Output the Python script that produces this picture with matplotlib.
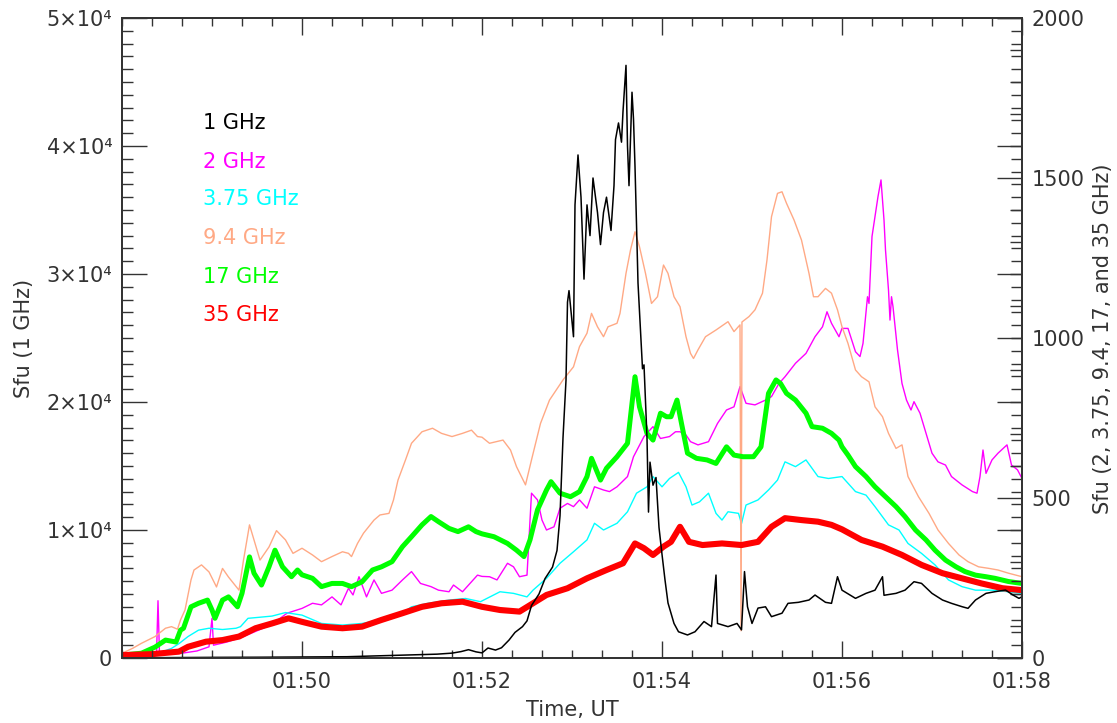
import numpy as np
import matplotlib
matplotlib.use('Agg')
import matplotlib.pyplot as plt
from matplotlib.ticker import MultipleLocator

# time in seconds after 01:48:00 UT, fluxes in sfu

# 1 GHz (left axis)
t_1 = [0, 30, 60, 90, 120, 150, 180, 195, 210, 220, 226, 231, 236, 240, 244, 249, 253, 258, 262, 267,
       270, 273, 278, 282, 287, 290, 292, 294, 296, 297, 298, 300, 301, 302, 304, 306, 308, 310, 312, 314,
       317, 319, 321, 323, 326, 328, 329, 331, 333, 334, 336, 337, 338, 340, 341, 342, 343, 344, 347, 348,
       350, 351, 352, 354, 356, 358, 360, 362, 364, 368, 371, 377, 382, 388, 393, 396, 397, 404, 410, 413,
       415, 417, 420, 424, 429, 433, 440, 444, 451, 458, 462, 469, 473, 477, 480, 489, 496, 502, 507, 508,
       516, 522, 528, 533, 540, 547, 553, 560, 564, 569, 576, 582, 589, 594, 598, 600]
f_1 = [0, 30, 50, 60, 80, 100, 200, 250, 300, 380, 500, 650, 480, 400, 780, 620, 800, 1400, 2000, 2450,
       2900, 4100, 5000, 6200, 7100, 8400, 11100, 17200, 21700, 27800, 28700, 26300, 25100, 35400, 39300, 36000, 29600, 35400, 33000, 37500,
       34800, 32300, 34800, 36000, 33400, 36900, 40500, 41800, 40300, 42700, 46300, 40000, 36900, 44200, 42100, 38400, 33900, 29300, 22600, 22900,
       17200, 11400, 15300, 13500, 14100, 10200, 8100, 6100, 4300, 2700, 2050, 1800, 2050, 2850, 2450, 6480, 2700, 2450, 2700, 2200,
       6750, 4000, 2700, 3900, 4000, 3230, 3500, 4270, 4350, 4530, 4920, 4350, 4270, 6350, 5300, 4660, 5050, 5300, 6350, 4900,
       5050, 5300, 5960, 5830, 5050, 4530, 4270, 4010, 3880, 4530, 5050, 5180, 5310, 4920, 4660, 4790]

# 2 GHz (right axis)
t_2 = [0, 15, 23, 24, 25, 40, 50, 58, 60, 61, 70, 80, 90, 100, 110, 120, 127, 133, 140, 146,
       151, 154, 158, 163, 168, 173, 180, 187, 193, 199, 206, 211, 218, 221, 227, 232, 237, 240, 245, 250,
       257, 261, 265, 270, 273, 277, 280, 283, 288, 292, 297, 301, 305, 310, 315, 321, 325, 330, 337, 341,
       348, 354, 359, 365, 369, 372, 376, 379, 384, 391, 397, 403, 408, 412, 416, 422, 429, 433, 438, 442,
       449, 456, 462, 467, 470, 473, 478, 480, 484, 489, 492, 494, 497, 498, 500, 502, 504, 506, 507, 508,
       509, 511, 512, 513, 514, 517, 520, 523, 526, 528, 532, 536, 540, 544, 549, 553, 560, 567, 570, 572,
       574, 576, 580, 584, 590, 593, 597, 600]
f_2 = [5, 8, 10, 179, 10, 15, 22, 35, 124, 40, 50, 65, 85, 105, 140, 155, 171, 166, 191, 166,
       218, 197, 254, 191, 244, 202, 212, 244, 270, 233, 223, 212, 207, 228, 207, 233, 259, 255, 254, 244,
       296, 285, 254, 259, 515, 494, 431, 400, 410, 468, 483, 473, 494, 468, 535, 525, 520, 535, 567, 629,
       692, 723, 686, 692, 707, 707, 697, 676, 666, 676, 733, 775, 785, 848, 796, 791, 806, 817, 858, 879,
       921, 952, 1004, 1035, 1082, 1046, 1004, 1030, 1030, 957, 942, 983, 1129, 1108, 1317, 1379, 1442, 1494, 1431, 1369,
       1275, 1150, 1056, 1129, 1098, 963, 858, 806, 775, 801, 765, 702, 640, 613, 603, 567, 541, 520, 515, 567,
       650, 577, 619, 640, 666, 603, 588, 561]

# 3.75 GHz (right axis)
t_375 = [0, 20, 33, 38, 44, 51, 58, 67, 76, 79, 84, 91, 100, 109, 120, 133, 147, 160, 173, 187,
         193, 204, 218, 229, 239, 252, 261, 270, 274, 283, 292, 301, 310, 315, 321, 330, 337, 343, 350, 354,
         360, 365, 371, 376, 380, 385, 391, 396, 400, 404, 411, 413, 416, 424, 431, 437, 442, 449, 456, 464,
         471, 480, 489, 496, 502, 511, 518, 524, 533, 542, 551, 560, 569, 580, 591, 600]
f_375 = [5, 8, 30, 45, 67, 87, 93, 89, 93, 98, 124, 127, 131, 142, 134, 108, 103, 108, 119, 140,
         160, 171, 181, 186, 176, 207, 202, 191, 212, 249, 296, 332, 369, 421, 400, 421, 457, 515, 535, 567,
         535, 561, 580, 535, 478, 488, 515, 452, 431, 457, 452, 420, 478, 494, 525, 556, 613, 598, 619, 567,
         561, 567, 520, 509, 473, 416, 400, 358, 327, 291, 244, 223, 212, 212, 207, 202]

# 9.4 GHz (right axis)
t_94 = [0, 7, 13, 22, 29, 33, 37, 39, 42, 46, 48, 53, 58, 63, 67, 71, 78, 81, 85, 88,
        92, 98, 103, 109, 114, 120, 127, 133, 140, 147, 151, 153, 157, 161, 168, 172, 178, 181, 184, 189,
        193, 200, 207, 213, 220, 227, 233, 237, 240, 245, 254, 259, 263, 269, 273, 279, 285, 294, 301, 305,
        310, 313, 317, 321, 324, 330, 332, 336, 339, 342, 345, 349, 353, 357, 361, 364, 368, 372, 376, 379,
        381, 384, 389, 396, 404, 408, 412, 412.7, 413.3, 418, 422, 427, 430, 433, 437, 440, 443, 448, 453, 458,
        461, 464, 469, 473, 477, 480, 484, 489, 493, 498, 502, 507, 511, 516, 520, 524, 531, 538, 544, 551,
        558, 564, 571, 578, 584, 591, 600]
f_94 = [15, 30, 46, 67, 93, 98, 90, 119, 150, 244, 275, 291, 269, 222, 280, 253, 212, 306, 416, 369,
        306, 347, 398, 369, 327, 343, 322, 301, 317, 332, 327, 317, 358, 390, 431, 447, 452, 494, 556, 619,
        671, 707, 718, 702, 692, 702, 712, 692, 690, 671, 681, 650, 598, 541, 619, 733, 806, 869, 910, 973,
        1015, 1077, 1035, 1004, 1035, 1046, 1077, 1202, 1275, 1332, 1285, 1202, 1108, 1129, 1228, 1202, 1129, 1098, 1004, 952,
        936, 963, 1004, 1025, 1051, 1020, 1041, 85, 1050, 1067, 1088, 1140, 1244, 1379, 1452, 1457, 1421, 1369, 1306, 1202,
        1129, 1129, 1155, 1140, 1088, 1035, 983, 900, 879, 863, 785, 754, 702, 655, 666, 567, 504, 452, 400, 358,
        322, 301, 285, 280, 275, 265, 254]

# 17 GHz (right axis)
t_17 = [0, 13, 22, 29, 36, 39, 41, 46, 51, 57, 60, 62, 67, 71, 77, 80, 85, 88, 93, 98,
        102, 107, 113, 117, 120, 127, 133, 140, 147, 153, 160, 167, 173, 180, 187, 193, 200, 206, 211, 218,
        224, 231, 236, 240, 248, 257, 263, 268, 272, 277, 283, 286, 292, 299, 305, 310, 313, 319, 323, 330,
        337, 342, 345, 350, 354, 359, 363, 366, 370, 373, 377, 383, 390, 396, 403, 408, 414, 421, 426, 431,
        436, 439, 443, 449, 456, 460, 467, 473, 478, 480, 484, 489, 496, 502, 509, 516, 522, 529, 536, 542,
        549, 556, 562, 569, 576, 582, 591, 600]
f_17 = [9, 15, 34, 56, 50, 87, 93, 160, 171, 181, 150, 124, 181, 191, 160, 202, 316, 265, 228, 285,
        337, 285, 254, 275, 260, 249, 223, 233, 233, 223, 238, 275, 285, 301, 348, 379, 416, 442, 426, 405,
        395, 410, 395, 388, 379, 358, 337, 317, 369, 463, 525, 551, 515, 504, 520, 567, 624, 556, 593, 629,
        671, 879, 785, 702, 681, 765, 754, 754, 806, 733, 640, 624, 619, 608, 660, 634, 629, 629, 660, 827,
        869, 858, 827, 806, 765, 723, 718, 702, 681, 660, 634, 598, 567, 535, 504, 473, 442, 400, 369, 337,
        306, 285, 270, 259, 254, 249, 239, 233]

# 35 GHz (right axis)
t_35 = [0, 20, 38, 44, 56, 67, 78, 89, 100, 111, 120, 133, 147, 160, 173, 187, 200, 213, 227, 240,
        252, 265, 274, 283, 297, 310, 323, 334, 342, 348, 354, 361, 366, 372, 378, 387, 400, 413, 424, 433,
        442, 453, 464, 473, 480, 493, 507, 520, 533, 547, 560, 573, 587, 600]
f_35 = [9, 12, 20, 35, 51, 56, 67, 93, 108, 124, 113, 98, 93, 98, 119, 140, 160, 171, 176, 160,
        150, 145, 171, 197, 218, 249, 275, 296, 358, 343, 322, 348, 363, 410, 363, 353, 358, 353, 363, 410,
        437, 431, 426, 416, 402, 369, 348, 322, 291, 265, 249, 233, 218, 212]

legend_labels = ['1 GHz', '2 GHz', '3.75 GHz', '9.4 GHz', '17 GHz', '35 GHz']
colors = ['black', '#ff00ff', '#00ffff', '#ffa985', '#00ff00', '#ff0000']
time_ticks = [120, 240, 360, 480, 600]
time_labels = ['01:50', '01:52', '01:54', '01:56', '01:58']
left_ticks = [0, 1e4, 2e4, 3e4, 4e4, 5e4]
left_labels = ['0', '1×10⁴', '2×10⁴', '3×10⁴', '4×10⁴', '5×10⁴']
right_ticks = [0, 500, 1000, 1500, 2000]

txt = '#333333'
plt.rcParams['font.family'] = 'DejaVu Sans'

W, H = 1117, 723
fig = plt.figure(figsize=(W / 100, H / 100), dpi=100)
ax = fig.add_axes([122 / W, 1 - 658 / H, 900 / W, 640 / H])
ax2 = ax.twinx()

# high frequencies on the right axis (17 and 35 GHz are noisy, drawn as bands)
ax2.plot(t_2, f_2, color=colors[1], lw=1.0)
ax2.plot(t_375, f_375, color=colors[2], lw=1.0)
ax2.plot(t_94, f_94, color=colors[3], lw=1.0)
ax2.plot(t_17, f_17, color=colors[4], lw=3.6)
ax2.plot(t_35, f_35, color=colors[5], lw=4.4)

# 1 GHz on the left axis, drawn on top
ax.set_zorder(ax2.get_zorder() + 1)
ax.patch.set_visible(False)
ax.plot(t_1, f_1, color=colors[0], lw=1.1)

ax.set_xlim(0, 600)
ax.set_ylim(0, 5e4)
ax2.set_ylim(0, 2000)

ax.set_xticks(time_ticks, time_labels)
ax.xaxis.set_minor_locator(MultipleLocator(20))
ax.set_yticks(left_ticks, left_labels)
ax.yaxis.set_minor_locator(MultipleLocator(1000))
ax2.set_yticks(right_ticks, [str(v) for v in right_ticks])
ax2.yaxis.set_minor_locator(MultipleLocator(100))

ax.tick_params(axis='y', which='major', direction='in', length=18, width=1.0,
               left=True, right=True, labelleft=True, labelright=False,
               labelsize=15, labelcolor=txt, pad=7, color=txt)
ax.tick_params(axis='y', which='minor', direction='in', length=8, width=1.0,
               left=True, right=True, color=txt)
ax.tick_params(axis='x', which='major', direction='in', length=12, width=1.0,
               top=True, bottom=True, labelsize=15, labelcolor=txt, pad=10, color=txt)
ax.tick_params(axis='x', which='minor', direction='in', length=6, width=1.0,
               top=True, bottom=True, color=txt)
ax2.tick_params(axis='y', which='major', direction='in', length=18, width=1.0,
                labelsize=15, labelcolor=txt, pad=7, color=txt)
ax2.tick_params(axis='y', which='minor', direction='in', length=9, width=1.0, color=txt)

for a in (ax, ax2):
    for s in a.spines.values():
        s.set_color(txt)
        s.set_linewidth(1.3)

# legend as coloured text
leg_y = [123, 162, 199, 238, 277, 315]
for lab, c, y in zip(legend_labels, colors, leg_y):
    fig.text(203 / W, 1 - y / H, lab, color=c, fontsize=15, ha='left', va='center')

fig.text(24 / W, 1 - 338 / H, 'Sfu (1 GHz)', rotation=90, fontsize=15,
         color=txt, ha='center', va='center')
fig.text(1103 / W, 1 - 339 / H, 'Sfu (2, 3.75, 9.4, 17, and 35 GHz)', rotation=90,
         fontsize=15, color=txt, ha='center', va='center')
fig.text(572 / W, 1 - 710 / H, 'Time, UT', fontsize=15, color=txt,
         ha='center', va='center')

fig.savefig('out.png', dpi=100)
